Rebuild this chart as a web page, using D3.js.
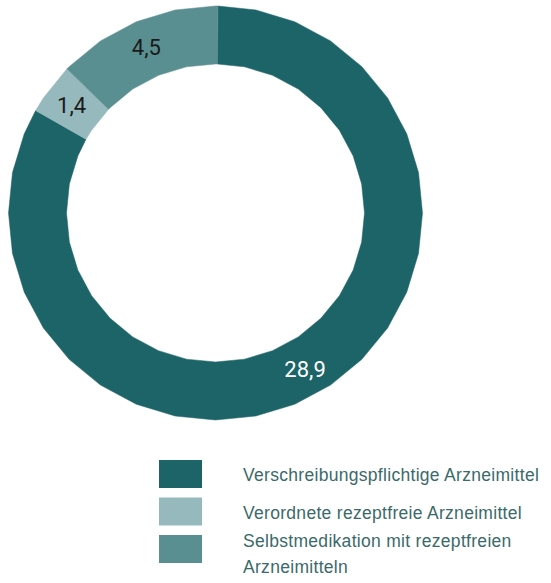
<!DOCTYPE html>
<html>
<head>
<meta charset="utf-8">
<script src="https://cdn.jsdelivr.net/npm/d3@7"></script>
<style>
  body { margin: 0; background: #fff; }
  svg { display: block; }
</style>
</head>
<body>
<div id="chart-area"></div>
<script>
// data
var categories = ["Verschreibungspflichtige Arzneimittel", "Verordnete rezeptfreie Arzneimittel", "Selbstmedikation mit rezeptfreien Arzneimitteln"]
var values = [28.9, 1.4, 4.5]
var valueLabels = ["28,9", "1,4", "4,5"]
var colors = ["#1d6468", "#96b9bd", "#5a8f91"]
var labelColors = ["#ffffff", "#1a1a1a", "#1a1a1a"]
var legendLines = [["Verschreibungspflichtige Arzneimittel"], ["Verordnete rezeptfreie Arzneimittel"], ["Selbstmedikation mit rezeptfreien", "Arzneimitteln"]]

var width = 551
var height = 583
var cx = 215.5, cy = 213
var outerR = 207, innerR = 149

var svg = d3.select("#chart-area")
  .append("svg")
  .attr("width", width)
  .attr("height", height)

var g = svg.append("g")
  .attr("transform", "translate(" + cx + "," + cy + ")")

var data = values.map(function(v, i) {
  return { name: categories[i], value: v, label: valueLabels[i], color: colors[i], labelColor: labelColors[i] }
})

var pie = d3.pie()
  .sort(null)
  .value(d => d.value)
  .startAngle(0.012)
  .endAngle(0.012 + 2 * Math.PI)

var arcs = pie(data)

// the original ring is drawn as a polygon, not a smooth curve
var step = 2 * Math.PI / 32
var radial = d3.lineRadial()
  .angle(p => p[0])
  .radius(p => p[1])

function polyArc(d) {
  var angles = [d.startAngle]
  var k = Math.ceil(d.startAngle / step)
  while (k * step < d.endAngle - 1e-6) {
    if (k * step > d.startAngle + 1e-6) angles.push(k * step)
    k++
  }
  angles.push(d.endAngle)
  var pts = angles.map(a => [a, outerR])
    .concat(angles.slice().reverse().map(a => [a, innerR]))
  return radial(pts) + "Z"
}

g.selectAll("path.slice")
  .data(arcs)
  .enter()
  .append("path")
  .attr("class", "slice")
  .attr("d", polyArc)
  .attr("fill", d => d.data.color)
  .attr("stroke", d => d.data.color)
  .attr("stroke-width", 0.5)

var labelArc = d3.arc()
  .innerRadius(180)
  .outerRadius(180)

g.selectAll("text.value")
  .data(arcs)
  .enter()
  .append("text")
  .attr("class", "value")
  .attr("transform", d => "translate(" + labelArc.centroid(d) + ")")
  .attr("text-anchor", "middle")
  .attr("dy", "0.36em")
  .attr("font-family", "Roboto, sans-serif")
  .attr("font-size", "22px")
  .attr("fill", d => d.data.labelColor)
  .text(d => d.data.label)

// legend
var legend = svg.append("g")
  .attr("transform", "translate(159,460)")

var rows = legend.selectAll("g.row")
  .data(data)
  .enter()
  .append("g")
  .attr("class", "row")
  .attr("transform", (d, i) => "translate(0," + (i * 37.5) + ")")

rows.append("rect")
  .attr("width", 43)
  .attr("height", 28)
  .attr("fill", d => d.color)

rows.append("text")
  .attr("x", 84)
  .attr("y", (d, i) => 21 - (legendLines[i].length - 1) * 9)
  .attr("font-family", "'Liberation Sans', Arial, sans-serif")
  .attr("font-size", "17.5px")
  .attr("letter-spacing", "0.3px")
  .attr("fill", "#3a6a6a")
  .selectAll("tspan")
  .data((d, i) => legendLines[i])
  .enter()
  .append("tspan")
  .attr("x", 84)
  .attr("dy", (d, j) => j === 0 ? 0 : 26)
  .text(d => d)
</script>
</body>
</html>
